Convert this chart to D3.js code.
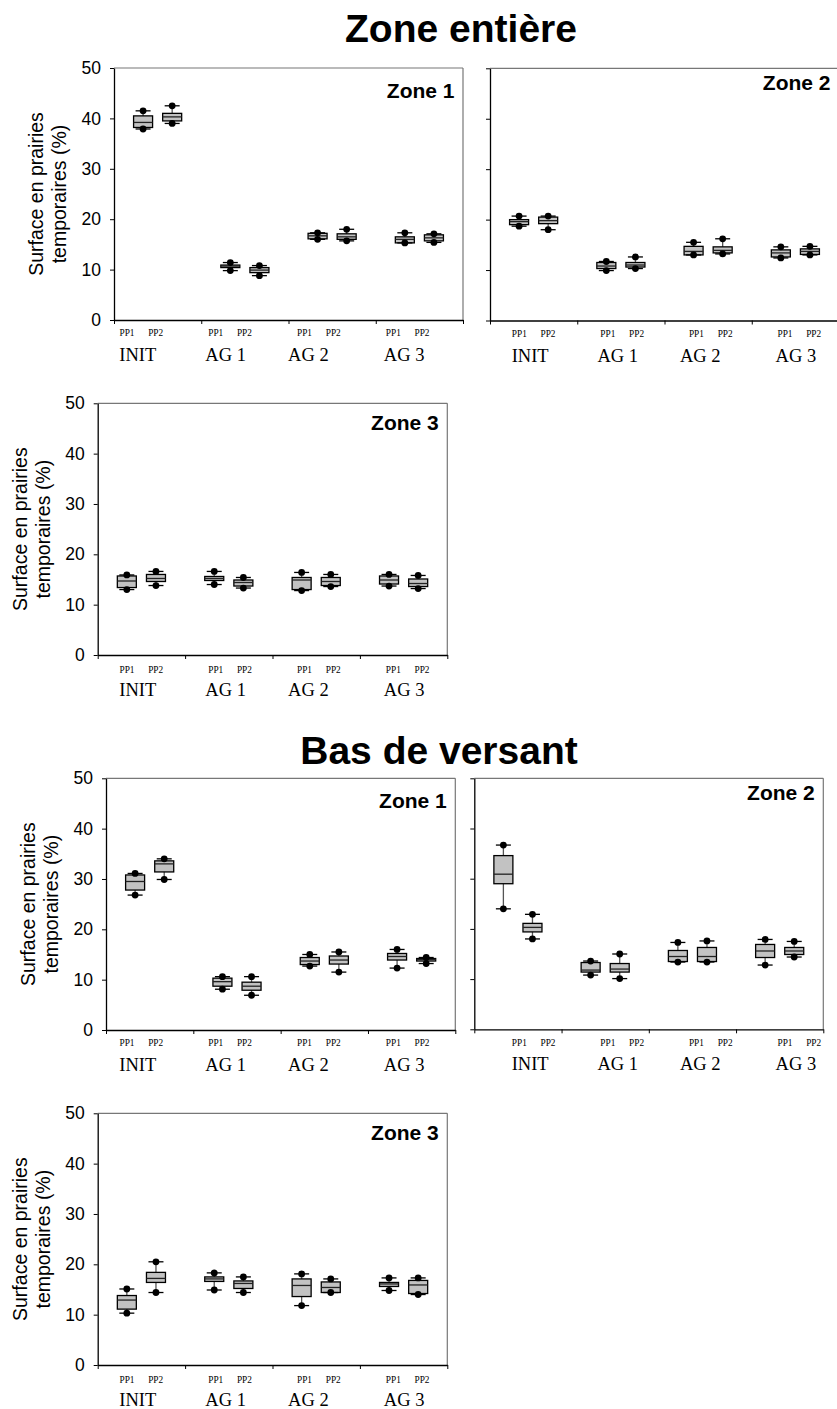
<!DOCTYPE html>
<html>
<head>
<meta charset="utf-8">
<script src="https://cdn.jsdelivr.net/npm/d3@7"></script>
<style>
  html, body { margin: 0; padding: 0; background: #fff; }
  svg { display: block; }
</style>
</head>
<body>
<script>
// ---------- DATA ----------
const groups = ["INIT", "AG 1", "AG 2", "AG 3"];
const series = ["PP1", "PP2"];
const yTicks = [0, 10, 20, 30, 40, 50];
const titles = ["Zone entière", "Bas de versant"];
const yTitleLines = ["Surface en prairies", "temporaires (%)"];
// each row: [low dot/whisker, Q1, median, Q3, high dot/whisker], order INIT-PP1, INIT-PP2, AG1-PP1, ...
const zoneEntiereZone1 = [
  [37.9, 38.2, 39.2, 40.5, 41.5], [39.0, 39.5, 40.3, 41.0, 42.5],
  [9.8, 10.4, 10.7, 10.9, 11.4],  [8.8, 9.4, 9.9, 10.4, 10.8],
  [16.0, 16.1, 16.7, 17.2, 17.3], [15.7, 16.0, 16.5, 17.1, 18.0],
  [15.3, 15.3, 16.0, 16.5, 17.3], [15.4, 15.7, 16.3, 16.9, 17.1]
];
const zoneEntiereZone2 = [
  [18.7, 19.0, 19.6, 20.0, 20.7], [18.0, 19.2, 19.8, 20.5, 20.7],
  [9.9, 10.3, 10.8, 11.5, 11.7],  [10.3, 10.6, 11.0, 11.5, 12.6],
  [13.0, 13.0, 13.7, 14.7, 15.5], [13.2, 13.4, 13.9, 14.6, 16.2],
  [12.4, 12.6, 13.4, 14.0, 14.6], [13.0, 13.1, 13.7, 14.2, 14.7]
];
const zoneEntiereZone3 = [
  [13.0, 13.4, 14.7, 15.7, 15.9], [13.8, 14.6, 15.2, 16.0, 16.6],
  [14.0, 14.8, 15.2, 15.6, 16.6], [13.3, 13.7, 14.4, 14.9, 15.4],
  [12.8, 13.0, 14.9, 15.4, 16.4], [13.6, 13.8, 14.6, 15.4, 16.0],
  [13.7, 14.1, 14.9, 15.7, 16.0], [13.2, 13.6, 14.2, 15.1, 15.8]
];
const basVersantZone1 = [
  [26.8, 27.8, 29.5, 30.8, 31.1], [29.9, 31.4, 33.0, 33.6, 34.0],
  [8.1, 8.7, 9.6, 10.3, 10.6],    [6.9, 7.9, 8.7, 9.5, 10.6],
  [12.7, 13.0, 13.7, 14.4, 15.0], [11.5, 13.1, 13.9, 14.7, 15.5],
  [12.3, 13.9, 14.6, 15.2, 16.0], [13.2, 13.7, 14.0, 14.2, 14.4]
];
const basVersantZone2 = [
  [24.0, 29.0, 30.9, 34.6, 36.7], [18.0, 19.4, 20.3, 21.1, 22.9],
  [10.8, 11.4, 11.8, 13.3, 13.6], [10.1, 11.4, 12.0, 13.1, 15.0],
  [13.4, 13.5, 14.5, 15.7, 17.3], [13.4, 13.5, 14.5, 16.3, 17.6],
  [12.8, 14.3, 15.6, 16.9, 17.9], [14.4, 14.9, 15.6, 16.3, 17.5]
];
const basVersantZone3 = [
  [10.3, 11.1, 12.9, 13.8, 15.1], [14.4, 16.4, 17.2, 18.4, 20.5],
  [14.9, 16.6, 17.1, 17.5, 18.3], [14.4, 15.2, 16.2, 16.7, 17.5],
  [11.8, 13.6, 15.8, 17.1, 18.1], [14.4, 14.4, 15.4, 16.5, 17.1],
  [14.8, 15.6, 16.1, 16.4, 17.3], [14.0, 14.2, 15.9, 16.8, 17.3]
];

// ---------- LAYOUT ----------
const W = 837, H = 1409;
const panels = [
  { data: zoneEntiereZone1, zone: "Zone 1", x0: 114,   x1: 463,   yT: 68,    yB: 320,    labels: true,  col: 0, zoneDy: 30,   ppDy: 16 },
  { data: zoneEntiereZone2, zone: "Zone 2", x0: 490,   x1: 839,   yT: 68.3,  yB: 320.5,  labels: false, col: 1, zoneDy: 21.7, ppDy: 16 },
  { data: zoneEntiereZone3, zone: "Zone 3", x0: 97.7,  x1: 447.3, yT: 403.3, yB: 655,    labels: true,  col: 0, zoneDy: 26.7, ppDy: 18 },
  { data: basVersantZone1,  zone: "Zone 1", x0: 106,   x1: 455.3, yT: 778.3, yB: 1030,   labels: true,  col: 0, zoneDy: 30,   ppDy: 16 },
  { data: basVersantZone2,  zone: "Zone 2", x0: 474.3, x1: 823.3, yT: 778.3, yB: 1029.3, labels: false, col: 1, zoneDy: 21.7, ppDy: 16.7 },
  { data: basVersantZone3,  zone: "Zone 3", x0: 97.7,  x1: 447.3, yT: 1113.3,yB: 1365,   labels: true,  col: 0, zoneDy: 26.7, ppDy: 18 }
];
// label columns (the category labels sit at fixed positions per page column)
const labelCols = [
  { pp1Range: [127, 393.3] },
  { pp1Range: [519.3, 785] }
];
const ppGap = 28.7;
const groupNudge = [-3.5, -4.5, -10.5, -3.5];
const titlePos = [ { x: 461, y: 41.7 }, { x: 439, y: 764.3 } ];

const SANS = "'Liberation Sans', Arial, Helvetica, sans-serif";
const SERIF = "'Liberation Serif', 'Times New Roman', serif";

const svg = d3.select("body").append("svg")
  .attr("width", W).attr("height", H)
  .attr("viewBox", `0 0 ${W} ${H}`);
svg.append("rect").attr("width", W).attr("height", H).attr("fill", "#fff");

// titles
svg.selectAll("text.title").data(titles).join("text")
  .attr("class", "title")
  .attr("x", (d, i) => titlePos[i].x)
  .attr("y", (d, i) => titlePos[i].y)
  .attr("text-anchor", "middle")
  .attr("font-family", SANS).attr("font-weight", "bold").attr("font-size", 39)
  .attr("fill", "#000")
  .text(d => d);

panels.forEach(p => {
  const g = svg.append("g");
  const x = d3.scaleBand().domain(groups).range([p.x0, p.x1]);
  const s = d3.scalePoint().domain(series).range([0, x.bandwidth()]).padding(1);
  const y = d3.scaleLinear().domain([0, 50]).range([p.yB, p.yT]);
  const xEdge = d3.scaleLinear().domain([0, groups.length]).range([p.x0, p.x1]);

  // frame (top & right, gray)
  g.append("line").attr("x1", p.x0).attr("x2", p.x1).attr("y1", p.yT).attr("y2", p.yT)
    .attr("stroke", "#777").attr("stroke-width", 1.2);
  g.append("line").attr("x1", p.x1).attr("x2", p.x1).attr("y1", p.yT).attr("y2", p.yB)
    .attr("stroke", "#777").attr("stroke-width", 1.2);

  // y axis
  const yAxis = d3.axisLeft(y).tickValues(yTicks).tickSize(4).tickSizeOuter(0).tickPadding(9)
    .tickFormat(p.labels ? d3.format("d") : () => "");
  const ya = g.append("g").attr("transform", `translate(${p.x0},0)`).call(yAxis);
  ya.select(".domain").attr("stroke", "#000").attr("stroke-width", 1.3);
  ya.selectAll(".tick line").attr("stroke", "#000").attr("stroke-width", 1);
  ya.selectAll(".tick text").attr("font-family", SANS).attr("font-size", 17.5).attr("fill", "#000");

  // x axis (ticks at group boundaries)
  const xAxis = d3.axisBottom(xEdge).tickValues(d3.range(groups.length + 1)).tickSize(4).tickSizeOuter(0)
    .tickFormat(() => "");
  const xa = g.append("g").attr("transform", `translate(0,${p.yB})`).call(xAxis);
  xa.select(".domain").attr("stroke", "#000").attr("stroke-width", 1.3);
  xa.selectAll(".tick line").attr("stroke", "#000").attr("stroke-width", 1);

  // y title
  if (p.labels) {
    const cy = (p.yT + p.yB) / 2;
    const offs = [-71, -48];
    yTitleLines.forEach((t, i) => {
      g.append("text")
        .attr("transform", `translate(${p.x0 + offs[i]},${cy}) rotate(-90)`)
        .attr("text-anchor", "middle")
        .attr("font-family", SANS).attr("font-size", 19.5).attr("fill", "#000")
        .text(t);
    });
  }

  // zone label
  g.append("text").attr("x", p.x1 - 8.5).attr("y", p.yT + p.zoneDy)
    .attr("text-anchor", "end")
    .attr("font-family", SANS).attr("font-weight", "bold").attr("font-size", 21).attr("fill", "#000")
    .text(p.zone);

  // boxes
  const boxW = 19, capW = 15, r = 3.4;
  const items = [];
  groups.forEach((grp, gi) => series.forEach((ser, si) => {
    items.push({ cx: x(grp) + s(ser), v: p.data[gi * series.length + si] });
  }));
  const b = g.selectAll("g.box").data(items).join("g").attr("class", "box");
  b.append("line").attr("x1", d => d.cx).attr("x2", d => d.cx)
    .attr("y1", d => y(d.v[0])).attr("y2", d => y(d.v[4]))
    .attr("stroke", "#555").attr("stroke-width", 1.3);
  b.append("rect").attr("x", d => d.cx - boxW / 2).attr("width", boxW)
    .attr("y", d => y(d.v[3])).attr("height", d => Math.max(0.5, y(d.v[1]) - y(d.v[3])))
    .attr("fill", "#c2c2c2").attr("stroke", "#000").attr("stroke-width", 1.3);
  b.append("line").attr("x1", d => d.cx - boxW / 2).attr("x2", d => d.cx + boxW / 2)
    .attr("y1", d => y(d.v[2])).attr("y2", d => y(d.v[2]))
    .attr("stroke", "#222").attr("stroke-width", 1.3);
  [0, 4].forEach(k => {
    b.append("line").attr("x1", d => d.cx - capW / 2).attr("x2", d => d.cx + capW / 2)
      .attr("y1", d => y(d.v[k])).attr("y2", d => y(d.v[k]))
      .attr("stroke", "#000").attr("stroke-width", 1.3);
    b.append("circle").attr("cx", d => d.cx).attr("cy", d => y(d.v[k])).attr("r", r)
      .attr("fill", "#000");
  });

  // category labels
  const lc = labelCols[p.col];
  const ppX = d3.scaleLinear().domain([0, groups.length - 1]).range(lc.pp1Range);
  groups.forEach((grp, gi) => {
    series.forEach((ser, si) => {
      g.append("text").attr("x", ppX(gi) + si * ppGap).attr("y", p.yB + p.ppDy)
        .attr("text-anchor", "middle")
        .attr("font-family", SERIF).attr("font-size", 9.3).attr("fill", "#000")
        .text(ser);
    });
    g.append("text").attr("x", ppX(gi) + ppGap / 2 + groupNudge[gi]).attr("y", p.yB + 41)
      .attr("text-anchor", "middle")
      .attr("font-family", SERIF).attr("font-size", 18.5).attr("fill", "#000")
      .text(grp);
  });
});
</script>
</body>
</html>
